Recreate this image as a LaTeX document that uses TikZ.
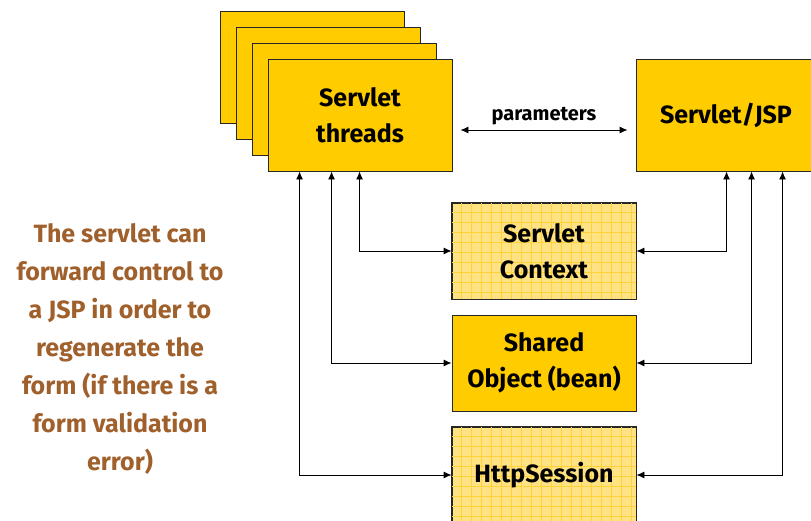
\documentclass[tikz,border=0pt]{standalone}
\usepackage{fontspec}
\setmainfont{Fira Sans}
\usetikzlibrary{arrows.meta,calc}
\definecolor{gold}{HTML}{FFCC00}
\definecolor{paleGold}{HTML}{FFE283}
\definecolor{gridGold}{HTML}{FFD23A}
\definecolor{noteBrown}{HTML}{A0602C}
\tikzset{
  box/.style={draw=black!85, line width=0.9pt, fill=gold, align=center,
    font=\fontsize{25}{36}\selectfont\bfseries, inner sep=0pt},
  gridbox/.style={box, fill=paleGold},
  link/.style={line width=0.9pt, {Latex[length=8pt,width=7pt]}-{Latex[length=8pt,width=7pt]}},
}
% grid texture inside a named box
\newcommand{\boxgrid}[1]{%
  \begin{scope}
    \clip (#1.south west) rectangle (#1.north east);
    \draw[gridGold, line width=0.45pt, shift={(#1.north west)}] (0,0) grid[step=10pt] (200,110);
  \end{scope}
  \draw[black!85, line width=0.9pt] (#1.south west) rectangle (#1.north east);
}
\begin{document}
\begin{tikzpicture}[x=1pt, y=-1pt]
  \useasboundingbox (0,0) rectangle (811,520);
  \clip (0,0) rectangle (811,520);

  % stacked thread boxes
  \node[box, minimum width=184pt, minimum height=112pt] (t1) at (312,67) {};
  \node[box, minimum width=184pt, minimum height=112pt] (t2) at (328,83) {};
  \node[box, minimum width=184pt, minimum height=112pt] (t3) at (344,99) {};
  \node[box, minimum width=184pt, minimum height=112pt] (threads) at (360,115) {Servlet\\threads};

  \node[box, minimum width=180pt, minimum height=112pt] (jsp) at (726,115) {Servlet/JSP};

  \node[gridbox, minimum width=184pt, minimum height=96pt] (ctx) at (544,251) {};
  \boxgrid{ctx}
  \node[align=center, font=\fontsize{25}{36}\selectfont\bfseries] at (ctx) {Servlet\\Context};

  \node[box, minimum width=184pt, minimum height=96pt] (shared) at (544,363) {Shared\\Object (bean)};

  \node[gridbox, minimum width=184pt, minimum height=96pt] (http) at (544,475) {};
  \boxgrid{http}
  \node[font=\fontsize{25}{36}\selectfont\bfseries] at (http) {HttpSession};

  % parameter exchange
  \draw[link] ($(threads.east)+(8,15)$) coordinate (pa) -- ($(jsp.west)+(-8,15)$) coordinate (pb)
    node[midway, above=1pt, font=\fontsize{20}{22}\selectfont\bfseries] {parameters};

  % threads to shared stores
  \draw[link] ($(threads.south west)+(92,0)$) |- (ctx.west);
  \draw[link] ($(threads.south west)+(64,0)$) |- (shared.west);
  \draw[link] ($(threads.south west)+(32,0)$) |- (http.west);

  % Servlet/JSP to shared stores
  \draw[link] ($(jsp.south west)+(91,0)$) |- (ctx.east);
  \draw[link] ($(jsp.south west)+(116,0)$) |- (shared.east);
  \draw[link] ($(jsp.south west)+(147,0)$) |- (http.east);

  % side note
  \node[align=center, text=noteBrown, font=\fontsize{25}{38}\selectfont\bfseries] (note) at (120,349)
    {The servlet can\\forward control to\\a JSP in order to\\regenerate the\\form (if there is a\\form validation\\error)};
\end{tikzpicture}
\end{document}
